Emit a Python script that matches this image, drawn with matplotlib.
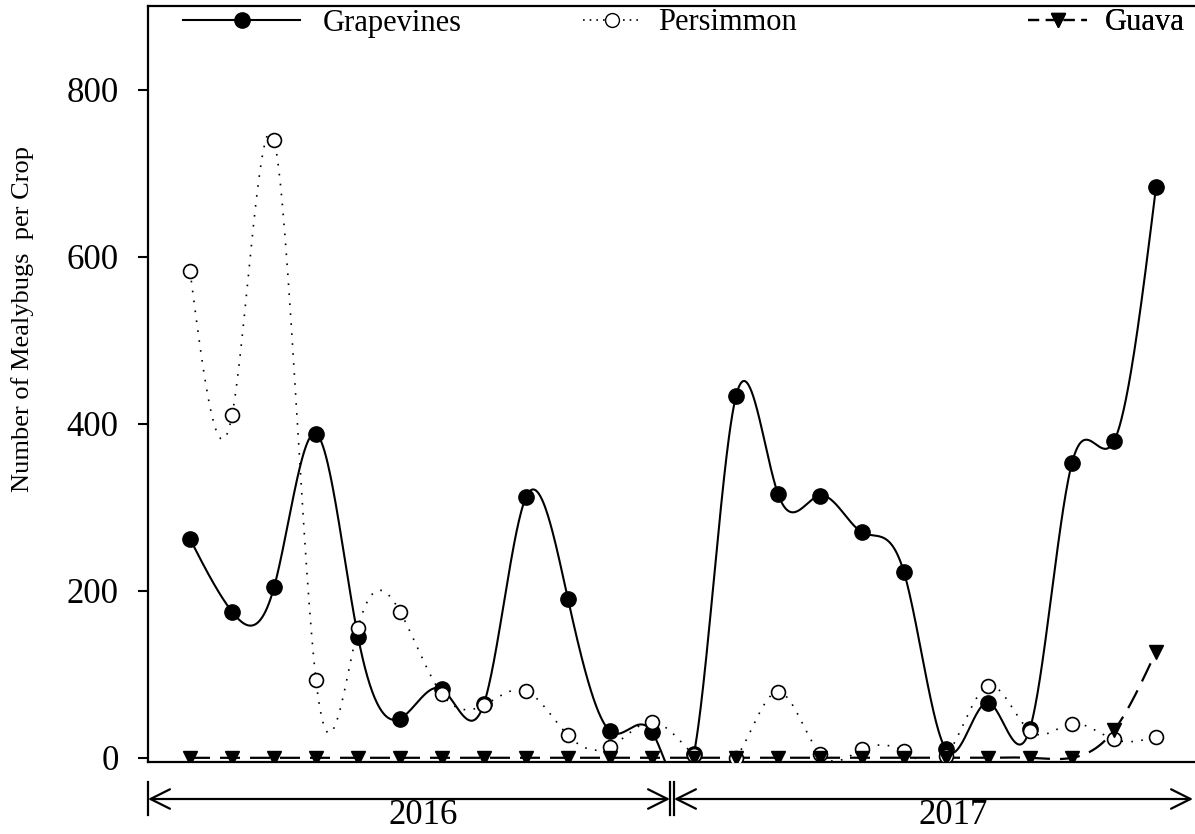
import numpy as np
import matplotlib
matplotlib.use("Agg")
import matplotlib.pyplot as plt
from matplotlib.lines import Line2D

# ---------------- data ----------------
sample_index = list(range(24))
grapevines = [262, 175, 204, 388, 145, 47, 82, 65, 312, 190, 32, 31,
              5, 433, 316, 314, 270, 222, 10, 66, 35, 353, 379, 683]
persimmon = [583, 410, 740, 93, 155, 175, 76, 63, 80, 27, 13, 43,
             3, 0, 79, 5, 10, 8, 2, 86, 32, 41, 22, 25]
guava = [0, 0, 0, 0, 0, 0, 0, 0, 0, 0, 0, 0,
         0, 0, 0, 0, 0, 0, 0, 0, 0, 0, 33, 127]
series_names = ["Grapevines", "Persimmon", "Guava"]
year_labels = ["2016", "2017"]
y_ticks = [0, 200, 400, 600, 800]
ylabel = "Number of Mealybugs  per Crop"


def natural_spline(x, y, xs):
    x = np.asarray(x, float)
    y = np.asarray(y, float)
    n = len(x)
    h = np.diff(x)
    A = np.zeros((n, n))
    b = np.zeros(n)
    A[0, 0] = 1
    A[-1, -1] = 1
    for i in range(1, n - 1):
        A[i, i - 1] = h[i - 1]
        A[i, i] = 2 * (h[i - 1] + h[i])
        A[i, i + 1] = h[i]
        b[i] = 6 * ((y[i + 1] - y[i]) / h[i] - (y[i] - y[i - 1]) / h[i - 1])
    M = np.linalg.solve(A, b)
    idx = np.clip(np.searchsorted(x, xs) - 1, 0, n - 2)
    x0, x1 = x[idx], x[idx + 1]
    hh = x1 - x0
    t0 = x1 - xs
    t1 = xs - x0
    return (M[idx] * t0 ** 3 / (6 * hh) + M[idx + 1] * t1 ** 3 / (6 * hh)
            + (y[idx] / hh - M[idx] * hh / 6) * t0
            + (y[idx + 1] / hh - M[idx + 1] * hh / 6) * t1)


plt.rcParams["font.family"] = ["Liberation Serif", "DejaVu Serif"]

W, H = 1195, 834
fig = plt.figure(figsize=(W / 100, H / 100), dpi=100)
ax_left, ax_right, ax_top, ax_bot = 148, 1195, 6, 762
ax = fig.add_axes([ax_left / W, (H - ax_bot) / H,
                   (ax_right - ax_left) / W, (ax_bot - ax_top) / H])

xs = np.linspace(0, 23, 1200)
x = np.array(sample_index, float)

# Grapevines
ax.plot(xs, natural_spline(x, grapevines, xs), color="black", lw=1.5, zorder=2)
ax.plot(x, grapevines, "o", color="black", ms=11, zorder=3)

# Persimmon
ax.plot(xs, natural_spline(x, persimmon, xs), color="black", lw=1.2,
        linestyle=(0, (1, 5)), zorder=2)
ax.plot(x, persimmon, "o", mfc="white", mec="black", mew=1.2, ms=10, zorder=4)

# Guava
ax.plot(xs, natural_spline(x, guava, xs), color="black", lw=1.6,
        linestyle=(0, (9, 4.5)), zorder=2)
ax.plot(x, guava, "v", color="black", ms=10, zorder=5)

ax.set_xlim(-1, (ax_right - 190) / 42.0)
ax.set_ylim(-5, 900)
ax.set_yticks(y_ticks)
ax.set_xticks([])
ax.tick_params(axis="y", direction="out", length=7.2, width=1.5,
               labelsize=25, pad=14)
for s in ["left", "top", "bottom"]:
    ax.spines[s].set_linewidth(1.6)
ax.spines["right"].set_visible(False)

fig.text(23 / W, 1 - 319 / H, ylabel, rotation=90, ha="center", va="center",
         fontsize=19)

# legends
fs_leg = 22
em = fs_leg * 100 / 72.0
leg_specs = [
    (series_names[0], dict(color="black", lw=1.5, marker="o", ms=11), 183, 117, 23),
    (series_names[1], dict(color="black", lw=1.2, linestyle=(0, (1, 3)), marker="o",
                           mfc="white", mec="black", ms=10), 583, 57, 18),
    (series_names[2], dict(color="black", lw=1.6, linestyle=(0, (5, 3)), marker="v", ms=10),
     1028, 59, 18),
]
ax_w = ax_right - ax_left
ax_h = ax_bot - ax_top
for name, style, px, hl_px, tp_px in leg_specs:
    h = Line2D([], [], **style)
    leg = ax.legend(handles=[h], labels=[name], loc="center left",
                    bbox_to_anchor=((px - ax_left) / ax_w, (ax_bot - 23) / ax_h),
                    frameon=False, fontsize=fs_leg, handlelength=hl_px / em,
                    handletextpad=tp_px / em, borderpad=0, borderaxespad=0,
                    numpoints=1)
    ax.add_artist(leg)

# year arrows below the axis
def fpx(xp, yp):
    return (xp / W, 1 - yp / H)

arrow_y = 799
arrow_kw = dict(arrowstyle="<->,head_length=0.7,head_width=0.35", lw=1.6,
                color="black", shrinkA=0, shrinkB=0, mutation_scale=20)
segments = [(148, 670), (674, 1193)]
for (a, b_) in segments:
    ax.annotate("", xy=fpx(b_, arrow_y), xytext=fpx(a, arrow_y),
                xycoords="figure fraction", textcoords="figure fraction",
                arrowprops=arrow_kw, annotation_clip=False)
for bx in [148, 670, 674]:
    fig.add_artist(Line2D([bx / W, bx / W], [1 - 782 / H, 1 - 815 / H],
                          color="black", lw=1.6))

fig.text(423 / W, 2 / H, year_labels[0], ha="center", va="bottom", fontsize=25)
fig.text(953 / W, 2 / H, year_labels[1], ha="center", va="bottom", fontsize=25)

fig.savefig("out.png", dpi=100)
